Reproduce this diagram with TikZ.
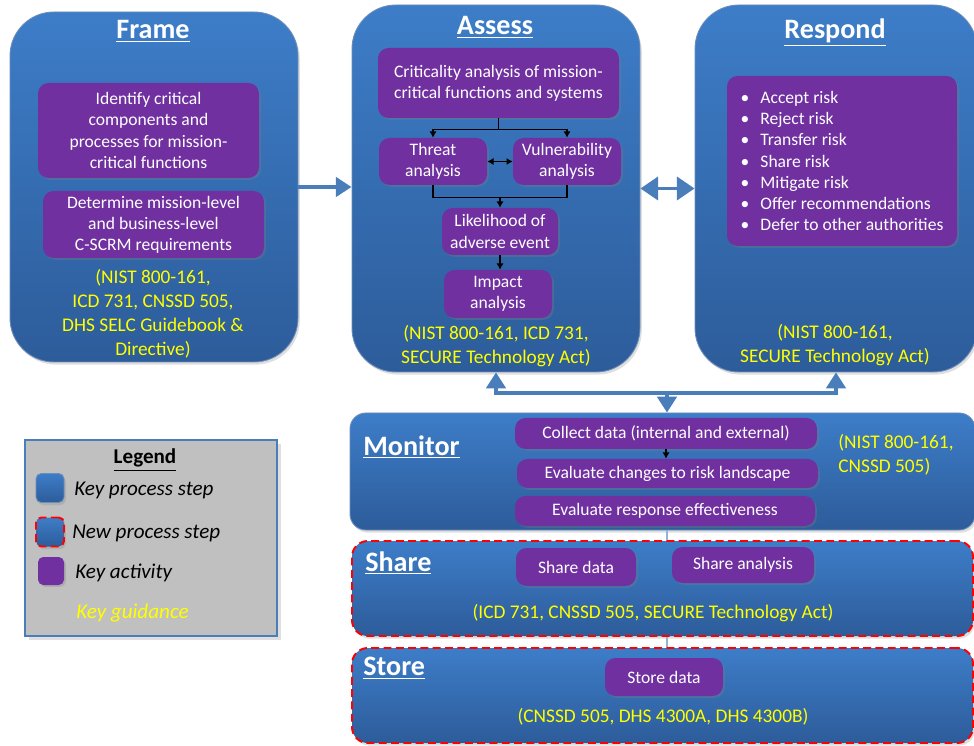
\documentclass[tikz,border=0pt]{standalone}
\usepackage{fontspec}
\setmainfont{Carlito}
\usetikzlibrary{arrows.meta,shadows}

\definecolor{stepblue}{HTML}{3D7DC8}
\definecolor{stepdark}{HTML}{2D5C9A}
\definecolor{actpurple}{HTML}{7030A0}
\definecolor{guideyellow}{HTML}{FFFF00}
\definecolor{flowblue}{HTML}{4A7EBB}
\definecolor{legendgray}{HTML}{C0C0C0}

\newcommand\riskitem[1]{\makebox[11.3pt][l]{\textbullet}#1}

\tikzset{
  sz/.style 2 args={minimum width=#1*0.02cm, minimum height=#2*0.02cm},
  stepbox/.style={draw=stepdark!70, line width=0.5pt, top color=stepblue, bottom color=stepdark,
    rounded corners=#1, inner sep=0pt, drop shadow={opacity=0.25,shadow xshift=1pt,shadow yshift=-1.5pt}},
  newstep/.style={stepbox=#1, draw=red, line width=1.1pt, dash pattern=on 4.5pt off 2.5pt},
  act/.style={fill=actpurple, rounded corners=6pt, text=white, align=center, inner sep=0pt,
    font=\fontsize{10}{12}\selectfont, drop shadow={opacity=0.3,shadow xshift=1pt,shadow yshift=-1pt}},
  smallact/.style={act, font=\fontsize{10}{12}\selectfont},
  steptitle/.style={text=white, font=\fontsize{16}{19}\selectfont\bfseries, inner sep=0pt},
  guide/.style={text=guideyellow, align=center, font=\fontsize{11}{13.6}\selectfont, inner sep=0pt},
  keytext/.style={anchor=west, inner sep=0pt, font=\fontsize{12}{14}\selectfont\itshape},
  flow/.style={draw=flowblue, line width=2.2pt},
  link/.style={-{Latex[length=3.5pt,width=4pt]}, line width=0.6pt},
  tie/.style={draw=flowblue!60, line width=1.2pt}
}

\begin{document}
\begin{tikzpicture}[x=0.02cm,y=-0.02cm]
\useasboundingbox (0,0) rectangle (974,746);

% process steps
\node[stepbox=25pt, sz={288}{350}] (frame) at (154,187) {};
\node[stepbox=25pt, sz={288}{367}] (assess) at (496,188.5) {};
\node[stepbox=25pt, sz={282}{367}] (respond) at (836,188.5) {};
\node[stepbox=9pt, sz={625}{117}] (monitor) at (662.5,471.5) {};
\node[newstep=9pt, sz={621}{95}] (share) at (662.5,588.5) {};
\node[newstep=9pt, sz={621}{95}] (store) at (662.5,695.5) {};

% titles
\node[steptitle] (frameT) at (153,31) {\underline{Frame}};
\node[steptitle] (assessT) at (495,27) {\underline{Assess}};
\node[steptitle] (respondT) at (835,33) {\underline{Respond}};
\node[steptitle, anchor=west] (monitorT) at (363,447) {\underline{Monitor}};
\node[steptitle, anchor=west] (shareT) at (365,563) {\underline{Share}};
\node[steptitle, anchor=west] (storeT) at (363,668) {\underline{Store}};

% Frame
\node[act, sz={221}{95}] (ident) at (148.5,130.5) {Identify critical\\components and\\processes for mission-\\critical functions};
\node[act, sz={221}{67}] (determ) at (153.5,224.5) {Determine mission-level\\and business-level\\C-SCRM requirements};
\node[guide] (frameG) at (153,314) {(NIST 800-161,\\ICD 731, CNSSD 505,\\DHS SELC Guidebook \&\\Directive)};

% Assess
\node[act, sz={241}{70}] (crit) at (498.5,83) {Criticality analysis of mission-\\critical functions and systems};
\node[act, sz={108}{47}] (threat) at (433,161.5) {Threat\\analysis};
\node[act, sz={108}{47}] (vuln) at (567,161.5) {Vulnerability\\analysis};
\node[act, sz={116}{47}] (likeli) at (500,231.5) {Likelihood of\\adverse event};
\node[act, sz={108}{48}] (impact) at (498,294) {Impact\\analysis};
\node[guide] (assessG) at (496,346) {(NIST 800-161, ICD 731,\\SECURE Technology Act)};

\draw[link] (crit.south) -- ++(0,11) -| (threat.north);
\draw[link] (crit.south) -- ++(0,11) -| (vuln.north);
\draw[{Latex[length=3.5pt,width=4pt]}-{Latex[length=3.5pt,width=4pt]}, line width=0.6pt] (threat) -- (vuln);
\draw[line width=0.6pt] (threat.south) -- ++(0,12) coordinate (merge) -| (vuln.south);
\draw[link] (merge -| likeli.north) -- (likeli.north);
\draw[link] (likeli.south) -- (likeli.south |- impact.north);

% Respond
\node[act, sz={230}{170}, align=left] (risks) at (842,161)
  {\riskitem{Accept risk}\\\riskitem{Reject risk}\\\riskitem{Transfer risk}\\\riskitem{Share risk}\\
   \riskitem{Mitigate risk}\\\riskitem{Offer recommendations}\\\riskitem{Defer to other authorities}};
\node[guide] (respondG) at (835,345) {(NIST 800-161,\\SECURE Technology Act)};

% Monitor
\node[smallact, sz={302}{31}] (collect) at (666,433.5) {Collect data (internal and external)};
\node[smallact, sz={301}{29}] (evalc) at (667.5,473.5) {Evaluate changes to risk landscape};
\node[smallact, sz={300}{30}] (evalr) at (665,511) {Evaluate response effectiveness};
\node[guide, anchor=west, align=left] (monitorG) at (838,455) {(NIST 800-161,\\CNSSD 505)};
\draw[link] (collect.south) -- (collect.south |- evalc.north);

% Share and Store
\node[smallact, sz={120}{38}] (sdata) at (576,567) {Share data};
\node[smallact, sz={142}{36}] (sana) at (743,565) {Share analysis};
\node[guide] (shareG) at (653,613) {(ICD 731, CNSSD 505, SECURE Technology Act)};
\node[smallact, sz={118}{38}] (stdata) at (664,677) {Store data};
\node[guide] (storeG) at (663,717) {(CNSSD 505, DHS 4300A, DHS 4300B)};

% flows between steps
\draw[flow, -{Triangle[length=9pt,width=11pt]}] (frame.east) -- (frame.east -| assess.west);
\draw[flow, {Triangle[length=10pt,width=13pt]}-{Triangle[length=10pt,width=13pt]}] (assess.east) -- (respond.west);
\coordinate (hub) at (667,393);
\draw[flow, line width=1.8pt, -{Triangle[length=9pt,width=11pt]}] (hub) -| (assess.south);
\draw[flow, line width=1.8pt, -{Triangle[length=9pt,width=11pt]}] (hub) -| (respond.south);
\draw[flow, line width=1.8pt, -{Triangle[length=9pt,width=11pt]}] (hub) -- (hub |- monitor.north);
\draw[tie] (hub |- monitor.south) -- (hub |- share.north);
\draw[tie] (hub |- share.south) -- (hub |- store.north);

% legend
\node[draw=flowblue, line width=0.7pt, fill=legendgray, sz={252}{196}, drop shadow={opacity=0.25}] (legend) at (151,538) {};
\node[inner sep=0pt, font=\fontsize{12}{14}\selectfont\bfseries] (legendT) at (145,460) {\underline{Legend}};
\node[stepbox=3pt, sz={28}{29}] (keyStep) at (50,488) {};
\node[newstep=3pt, sz={28}{29}] (keyNew) at (50,532) {};
\node[act, sz={26}{28}, rounded corners=3pt] (keyAct) at (51,571) {};
\node[keytext] (keyStepT) at (74,490) {Key process step};
\node[keytext] (keyNewT) at (72,533) {New process step};
\node[keytext] (keyActT) at (75,573) {Key activity};
\node[keytext, text=guideyellow] (keyGuideT) at (76,613) {Key guidance};
\end{tikzpicture}
\end{document}
